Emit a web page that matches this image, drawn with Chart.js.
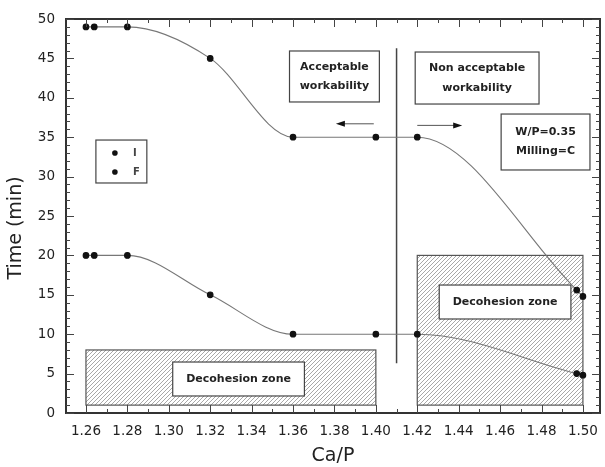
<!DOCTYPE html>
<html>
<head>
<meta charset="utf-8">
<script src="https://cdn.jsdelivr.net/npm/chart.js@4"></script>
<style>
  html, body { margin: 0; padding: 0; background: #fff; }
</style>
</head>
<body>
<canvas id="chart" width="605" height="467"></canvas>
<script>
// Measured points (Ca/P ratio vs setting time)
const caP = [1.26, 1.264, 1.28, 1.32, 1.36, 1.40, 1.42, 1.497, 1.500];
const timeI = [20, 20, 20, 15, 10, 10, 10, 5.0, 4.8];
const timeF = [49, 49, 49, 45, 35, 35, 35, 15.6, 14.8];
const seriesNames = ['I', 'F'];

const xTicks = [1.26, 1.28, 1.30, 1.32, 1.34, 1.36, 1.38, 1.40, 1.42, 1.44, 1.46, 1.48, 1.50];
const yTicks = [0, 5, 10, 15, 20, 25, 30, 35, 40, 45, 50];

// Decohesion zones: [xFrom, xTo] and [yFrom, yTo]
const zoneX = [[1.26, 1.40], [1.42, 1.50]];
const zoneY = [[1, 8], [1, 20]];
const workabilityLimit = 1.41;

const FONT = "'DejaVu Sans', Verdana, sans-serif";

function pts(ys) {
    return caP.map((x, i) => ({ x: x, y: ys[i] }));
}

// diagonal hatch used for the decohesion zones
const hatchTile = document.createElement('canvas');
hatchTile.width = 4;
hatchTile.height = 4;
(function() {
    const g = hatchTile.getContext('2d');
    g.strokeStyle = '#a8a8a8';
    g.lineWidth = 1;
    g.beginPath();
    g.moveTo(0, 4); g.lineTo(4, 0);
    g.moveTo(-1, 1); g.lineTo(1, -1);
    g.moveTo(3, 5); g.lineTo(5, 3);
    g.stroke();
})();

function labelBox(c, xs, ys, box, lines, fontSize) {
    const x0 = xs.getPixelForValue(box[0]), x1 = xs.getPixelForValue(box[1]);
    const y0 = ys.getPixelForValue(box[2]), y1 = ys.getPixelForValue(box[3]);
    c.fillStyle = '#fff';
    c.fillRect(x0, y0, x1 - x0, y1 - y0);
    c.strokeStyle = '#444';
    c.lineWidth = 1.2;
    c.strokeRect(x0, y0, x1 - x0, y1 - y0);
    c.fillStyle = '#222';
    c.font = 'bold ' + fontSize + 'px ' + FONT;
    c.textAlign = 'center';
    c.textBaseline = 'middle';
    const cx = (x0 + x1) / 2, cy = (y0 + y1) / 2;
    const lh = fontSize * 1.75;
    lines.forEach((t, i) => {
        c.fillText(t, cx, cy + (i - (lines.length - 1) / 2) * lh);
    });
}

function arrow(c, xs, ys, from, to, y) {
    const a = xs.getPixelForValue(from), b = xs.getPixelForValue(to);
    const py = ys.getPixelForValue(y);
    const dir = Math.sign(b - a);
    c.strokeStyle = '#555';
    c.lineWidth = 1;
    c.beginPath();
    c.moveTo(a, py);
    c.lineTo(b - dir * 6, py);
    c.stroke();
    c.fillStyle = '#111';
    c.beginPath();
    c.moveTo(b, py);
    c.lineTo(b - dir * 9, py - 3);
    c.lineTo(b - dir * 9, py + 3);
    c.closePath();
    c.fill();
}

const backdrop = {
    id: 'backdrop',
    beforeDatasetsDraw(chart) {
        const c = chart.ctx;
        const xs = chart.scales.x, ys = chart.scales.y;
        c.save();
        const pattern = c.createPattern(hatchTile, 'repeat');
        zoneX.forEach((zx, i) => {
            const x0 = xs.getPixelForValue(zx[0]), x1 = xs.getPixelForValue(zx[1]);
            const y0 = ys.getPixelForValue(zoneY[i][1]), y1 = ys.getPixelForValue(zoneY[i][0]);
            c.fillStyle = '#fff';
            c.fillRect(x0, y0, x1 - x0, y1 - y0);
            c.fillStyle = pattern;
            c.fillRect(x0, y0, x1 - x0, y1 - y0);
            c.strokeStyle = '#555';
            c.lineWidth = 1.2;
            c.strokeRect(x0, y0, x1 - x0, y1 - y0);
        });
        labelBox(c, xs, ys, [1.3019, 1.3655, 6.47, 2.16], ['Decohesion zone'], 11);
        labelBox(c, xs, ys, [1.4306, 1.4942, 16.24, 11.93], ['Decohesion zone'], 11);

        // workability limit
        const lx = xs.getPixelForValue(workabilityLimit);
        c.strokeStyle = '#444';
        c.lineWidth = 1.5;
        c.beginPath();
        c.moveTo(lx, ys.getPixelForValue(46.3));
        c.lineTo(lx, ys.getPixelForValue(6.3));
        c.stroke();
        c.restore();
    },
    afterDatasetsDraw(chart) {
        const c = chart.ctx;
        const xs = chart.scales.x, ys = chart.scales.y;
        c.save();
        labelBox(c, xs, ys, [1.3583, 1.4017, 45.94, 39.47], ['Acceptable', 'workability'], 11);
        labelBox(c, xs, ys, [1.4190, 1.4788, 45.81, 39.21], ['Non acceptable', 'workability'], 11);
        labelBox(c, xs, ys, [1.4605, 1.5034, 37.94, 30.84], ['W/P=0.35', 'Milling=C'], 11);
        arrow(c, xs, ys, 1.399, 1.3807, 36.7);
        arrow(c, xs, ys, 1.420, 1.4417, 36.5);

        // legend
        const lx0 = xs.getPixelForValue(1.2648), lx1 = xs.getPixelForValue(1.2894);
        const ly0 = ys.getPixelForValue(34.64), ly1 = ys.getPixelForValue(29.19);
        c.strokeStyle = '#444';
        c.lineWidth = 1.2;
        c.strokeRect(lx0, ly0, lx1 - lx0, ly1 - ly0);
        c.font = 'bold 10px ' + FONT;
        c.textAlign = 'left';
        c.textBaseline = 'middle';
        seriesNames.forEach((name, i) => {
            const cy = ly0 + 13 + i * 19;
            c.fillStyle = '#111';
            c.beginPath();
            c.arc(lx0 + 19, cy, 2.8, 0, Math.PI * 2);
            c.fill();
            c.fillStyle = '#444';
            c.fillText(name, lx0 + 37, cy);
        });
        c.restore();
    }
};

// box around the plot with inward ticks on all four sides (drawn as thin filled rects)
const frame = {
    id: 'plotFrame',
    afterDraw(chart) {
        const c = chart.ctx;
        const xs = chart.scales.x, ys = chart.scales.y;
        const L = Math.round(xs.left), R = Math.round(xs.right);
        const T = Math.round(ys.top), B = Math.round(ys.bottom);
        c.save();
        c.fillStyle = '#333';
        c.fillRect(L - 1, T - 1, R - L + 2, 2);
        c.fillRect(L - 1, B - 1, R - L + 2, 2);
        c.fillRect(L - 1, T - 1, 2, B - T + 2);
        c.fillRect(R - 1, T - 1, 2, B - T + 2);

        c.fillStyle = '#444';
        for (let i = 0; i <= (xTicks.length - 1) * 2; i++) {
            const px = Math.round(xs.getPixelForValue(xTicks[0] + i * 0.01));
            const len = i % 2 === 0 ? 8 : 4;
            c.fillRect(px, B - len, 1, len);
            c.fillRect(px, T, 1, len);
        }
        for (let v = 0; v <= 50; v++) {
            const py = Math.round(ys.getPixelForValue(v));
            const len = v % 5 === 0 ? 8 : 4;
            c.fillRect(L, py, len, 1);
            c.fillRect(R - len, py, len, 1);
        }

        // y axis title
        c.translate(16, (T + B) / 2 + 12);
        c.rotate(-Math.PI / 2);
        c.fillStyle = '#222';
        c.font = '19px ' + FONT;
        c.textAlign = 'center';
        c.textBaseline = 'middle';
        c.fillText('Time (min)', 0, 0);
        c.restore();
    }
};

new Chart(document.getElementById('chart').getContext('2d'), {
    type: 'line',
    data: {
        datasets: [
            {
                label: seriesNames[0],
                data: pts(timeI),
                borderColor: '#777',
                borderWidth: 1.1,
                pointBackgroundColor: '#111',
                pointBorderColor: '#111',
                pointRadius: 2.8,
                cubicInterpolationMode: 'monotone'
            },
            {
                label: seriesNames[1],
                data: pts(timeF),
                borderColor: '#777',
                borderWidth: 1.1,
                pointBackgroundColor: '#111',
                pointBorderColor: '#111',
                pointRadius: 2.8,
                cubicInterpolationMode: 'monotone'
            }
        ]
    },
    options: {
        responsive: false,
        devicePixelRatio: 1,
        animation: false,
        layout: { padding: { top: 19, right: 4, left: 0, bottom: 0 } },
        plugins: {
            legend: { display: false },
            tooltip: { enabled: false }
        },
        scales: {
            x: {
                type: 'linear',
                min: 1.25036,
                max: 1.5082,
                afterBuildTicks: s => { s.ticks = xTicks.map(v => ({ value: v })); },
                afterFit: s => { s.height = 54; s.paddingLeft = 0; s.paddingRight = 0; },
                grid: { display: false, drawTicks: false },
                border: { display: true, color: '#333', width: 1.5 },
                ticks: {
                    callback: v => v.toFixed(2),
                    font: { family: FONT, size: 13.5 },
                    color: '#222',
                    padding: 10,
                    maxRotation: 0,
                    autoSkip: false
                },
                title: {
                    display: true,
                    text: 'Ca/P',
                    font: { family: FONT, size: 19, lineHeight: 1 },
                    color: '#222',
                    padding: { top: 0, bottom: 1 }
                }
            },
            y: {
                min: 0,
                max: 50,
                afterBuildTicks: s => { s.ticks = yTicks.map(v => ({ value: v })); },
                afterFit: s => { s.width = 66; s.paddingTop = 0; s.paddingBottom = 0; },
                grid: { display: false, drawTicks: false },
                border: { display: true, color: '#333', width: 1.5 },
                ticks: {
                    font: { family: FONT, size: 13.5 },
                    color: '#222',
                    padding: 11
                }
            }
        }
    },
    plugins: [backdrop, frame]
});
</script>
</body>
</html>
